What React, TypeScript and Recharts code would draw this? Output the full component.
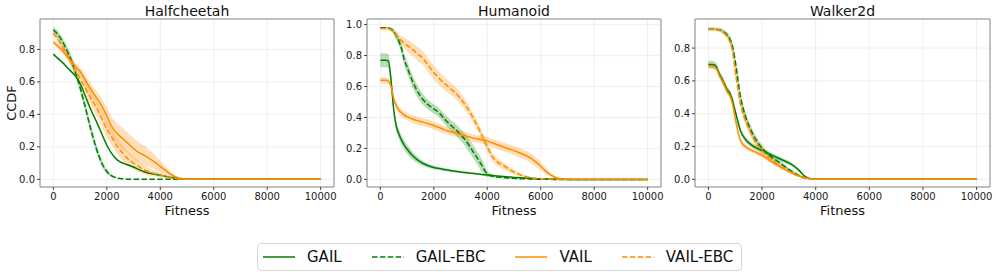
import React from 'react'
import { ComposedChart, Line, Area, XAxis, YAxis, CartesianGrid, ReferenceArea } from 'recharts'

// fitness grid shared by all panels
const FITNESS = [
  0, 100, 200, 300, 400, 500, 600, 700, 800, 900, 1000,
  1200, 1400, 1600, 1800, 2000, 2200, 2400, 2600, 2800, 3000,
  3200, 3400, 3600, 3800, 4000, 4200, 4400, 4600, 4800, 5000,
  5200, 5400, 5600, 5800, 6000, 6200, 6400, 6600, 6800, 7000,
  8000, 9000, 10000,
]
const X_TICKS = [0, 2000, 4000, 6000, 8000, 10000]

// Halfcheetah
const hcGail = [
  0.77, 0.755, 0.74, 0.725, 0.71, 0.692, 0.675, 0.658, 0.64, 0.618, 0.59,
  0.51, 0.43, 0.36, 0.285, 0.21, 0.155, 0.118, 0.1, 0.088, 0.076,
  0.06, 0.047, 0.038, 0.031, 0.026, 0.019, 0.012, 0.006, 0.003, 0.001,
  0, 0, 0, 0, 0, 0, 0, 0, 0, 0, 0, 0, 0,
]
const hcGailSd = [
  0.006, 0.006, 0.006, 0.006, 0.006, 0.006, 0.006, 0.006, 0.006, 0.006, 0.006,
  0.006, 0.006, 0.006, 0.006, 0.006, 0.006, 0.005, 0.005, 0.005, 0.005,
  0.004, 0.004, 0.003, 0.003, 0.003, 0.002, 0.002, 0.001, 0.001, 0,
  0, 0, 0, 0, 0, 0, 0, 0, 0, 0, 0, 0, 0,
]
const hcGailEbc = [
  0.92, 0.905, 0.885, 0.86, 0.83, 0.795, 0.76, 0.72, 0.67, 0.62, 0.565,
  0.44, 0.31, 0.195, 0.105, 0.048, 0.02, 0.008, 0.003, 0.001, 0,
  0, 0, 0, 0, 0, 0, 0, 0, 0, 0,
  0, 0, 0, 0, 0, 0, 0, 0, 0, 0, 0, 0, 0,
]
const hcGailEbcSd = [
  0.018, 0.02, 0.022, 0.024, 0.026, 0.028, 0.03, 0.03, 0.03, 0.03, 0.03,
  0.03, 0.03, 0.028, 0.022, 0.014, 0.008, 0.004, 0.002, 0.001, 0,
  0, 0, 0, 0, 0, 0, 0, 0, 0, 0,
  0, 0, 0, 0, 0, 0, 0, 0, 0, 0, 0, 0, 0,
]
const hcVail = [
  0.845, 0.83, 0.815, 0.8, 0.78, 0.76, 0.74, 0.72, 0.7, 0.682, 0.665,
  0.61, 0.555, 0.505, 0.455, 0.39, 0.32, 0.28, 0.25, 0.22, 0.19,
  0.165, 0.148, 0.128, 0.105, 0.08, 0.055, 0.03, 0.013, 0.005, 0.002,
  0, 0, 0, 0, 0, 0, 0, 0, 0, 0, 0, 0, 0,
]
const hcVailSd = [
  0.015, 0.015, 0.016, 0.017, 0.018, 0.019, 0.02, 0.021, 0.022, 0.023, 0.025,
  0.03, 0.035, 0.04, 0.045, 0.05, 0.058, 0.062, 0.064, 0.064, 0.064,
  0.062, 0.06, 0.054, 0.044, 0.034, 0.024, 0.015, 0.008, 0.004, 0.002,
  0, 0, 0, 0, 0, 0, 0, 0, 0, 0, 0, 0, 0,
]
const hcVailEbc = [
  0.9, 0.88, 0.855, 0.83, 0.8, 0.772, 0.745, 0.712, 0.68, 0.65, 0.62,
  0.56, 0.5, 0.445, 0.38, 0.31, 0.255, 0.2, 0.16, 0.125, 0.1,
  0.078, 0.058, 0.045, 0.035, 0.027, 0.018, 0.01, 0.006, 0.003, 0.001,
  0, 0, 0, 0, 0, 0, 0, 0, 0, 0, 0, 0, 0,
]
const hcVailEbcSd = [
  0.02, 0.02, 0.02, 0.022, 0.024, 0.026, 0.028, 0.03, 0.032, 0.034, 0.036,
  0.04, 0.045, 0.05, 0.05, 0.05, 0.05, 0.05, 0.048, 0.045, 0.04,
  0.034, 0.028, 0.022, 0.018, 0.014, 0.01, 0.006, 0.004, 0.002, 0.001,
  0, 0, 0, 0, 0, 0, 0, 0, 0, 0, 0, 0, 0,
]

// Humanoid
const huGail = [
  0.77, 0.77, 0.77, 0.765, 0.64, 0.45, 0.34, 0.29, 0.25, 0.22, 0.195,
  0.155, 0.125, 0.103, 0.088, 0.077, 0.07, 0.064, 0.058, 0.053, 0.048,
  0.044, 0.04, 0.036, 0.032, 0.029, 0.026, 0.022, 0.019, 0.016, 0.013,
  0.011, 0.009, 0.007, 0.005, 0.004, 0.003, 0.002, 0.001, 0.001, 0,
  0, 0, 0,
]
const huGailSd = [
  0.045, 0.045, 0.045, 0.045, 0.04, 0.032, 0.03, 0.03, 0.03, 0.03, 0.03,
  0.026, 0.02, 0.016, 0.013, 0.011, 0.01, 0.009, 0.008, 0.008, 0.007,
  0.007, 0.006, 0.006, 0.005, 0.005, 0.004, 0.004, 0.003, 0.003, 0.003,
  0.002, 0.002, 0.002, 0.001, 0.001, 0.001, 0.001, 0, 0, 0,
  0, 0, 0,
]
const huGailEbc = [
  0.98, 0.98, 0.98, 0.978, 0.97, 0.955, 0.925, 0.89, 0.84, 0.77, 0.725,
  0.635, 0.565, 0.515, 0.48, 0.455, 0.43, 0.39, 0.355, 0.325, 0.29,
  0.25, 0.198, 0.145, 0.09, 0.035, 0.02, 0.015, 0.012, 0.009, 0.007,
  0.005, 0.004, 0.003, 0.002, 0.001, 0.001, 0, 0, 0, 0,
  0, 0, 0,
]
const huGailEbcSd = [
  0.005, 0.005, 0.005, 0.008, 0.012, 0.018, 0.025, 0.03, 0.035, 0.038, 0.04,
  0.04, 0.038, 0.035, 0.032, 0.03, 0.03, 0.032, 0.034, 0.036, 0.038,
  0.04, 0.042, 0.042, 0.04, 0.02, 0.008, 0.005, 0.004, 0.003, 0.002,
  0.002, 0.001, 0.001, 0.001, 0, 0, 0, 0, 0, 0,
  0, 0, 0,
]
const huVail = [
  0.64, 0.64, 0.64, 0.635, 0.6, 0.52, 0.475, 0.445, 0.43, 0.415, 0.405,
  0.39, 0.378, 0.37, 0.36, 0.348, 0.335, 0.32, 0.31, 0.3, 0.29,
  0.28, 0.27, 0.262, 0.255, 0.249, 0.235, 0.222, 0.21, 0.198, 0.186,
  0.172, 0.158, 0.14, 0.115, 0.085, 0.052, 0.026, 0.01, 0.003, 0.001,
  0, 0, 0,
]
const huVailSd = [
  0.02, 0.02, 0.02, 0.02, 0.022, 0.024, 0.025, 0.025, 0.025, 0.025, 0.025,
  0.025, 0.025, 0.025, 0.025, 0.025, 0.025, 0.025, 0.025, 0.025, 0.025,
  0.025, 0.025, 0.025, 0.025, 0.025, 0.026, 0.027, 0.028, 0.029, 0.03,
  0.03, 0.03, 0.03, 0.03, 0.028, 0.02, 0.012, 0.006, 0.002, 0.001,
  0, 0, 0,
]
const huVailEbc = [
  0.975, 0.975, 0.975, 0.973, 0.966, 0.95, 0.93, 0.91, 0.895, 0.88, 0.866,
  0.84, 0.81, 0.78, 0.735, 0.69, 0.652, 0.62, 0.59, 0.56, 0.522,
  0.475, 0.42, 0.355, 0.285, 0.21, 0.145, 0.11, 0.09, 0.067, 0.048,
  0.032, 0.021, 0.013, 0.008, 0.005, 0.003, 0.001, 0, 0, 0,
  0, 0, 0,
]
const huVailEbcSd = [
  0.008, 0.008, 0.008, 0.01, 0.012, 0.015, 0.02, 0.025, 0.03, 0.035, 0.04,
  0.043, 0.045, 0.045, 0.045, 0.045, 0.045, 0.042, 0.04, 0.038, 0.036,
  0.034, 0.032, 0.03, 0.03, 0.03, 0.028, 0.025, 0.022, 0.02, 0.016,
  0.012, 0.008, 0.005, 0.003, 0.002, 0.001, 0, 0, 0, 0,
  0, 0, 0,
]

// Walker2d
const wkGail = [
  0.7, 0.7, 0.698, 0.685, 0.645, 0.615, 0.58, 0.545, 0.525, 0.48, 0.415,
  0.295, 0.24, 0.21, 0.19, 0.176, 0.16, 0.145, 0.13, 0.115, 0.1,
  0.08, 0.052, 0.018, 0.004, 0.001, 0, 0, 0, 0, 0,
  0, 0, 0, 0, 0, 0, 0, 0, 0, 0, 0, 0, 0,
]
const wkGailSd = [
  0.022, 0.022, 0.022, 0.022, 0.022, 0.022, 0.022, 0.022, 0.02, 0.02, 0.02,
  0.018, 0.016, 0.015, 0.015, 0.014, 0.014, 0.013, 0.012, 0.012, 0.012,
  0.01, 0.008, 0.006, 0.003, 0.001, 0, 0, 0, 0, 0,
  0, 0, 0, 0, 0, 0, 0, 0, 0, 0, 0, 0, 0,
]
const wkGailEbc = [
  0.915, 0.915, 0.915, 0.914, 0.912, 0.905, 0.895, 0.88, 0.855, 0.81, 0.72,
  0.5, 0.375, 0.295, 0.235, 0.19, 0.157, 0.13, 0.108, 0.084, 0.06,
  0.04, 0.022, 0.009, 0.003, 0.001, 0, 0, 0, 0, 0,
  0, 0, 0, 0, 0, 0, 0, 0, 0, 0, 0, 0, 0,
]
const wkGailEbcSd = [
  0.01, 0.01, 0.01, 0.01, 0.01, 0.012, 0.014, 0.016, 0.02, 0.025, 0.03,
  0.03, 0.028, 0.025, 0.022, 0.02, 0.018, 0.016, 0.014, 0.012, 0.01,
  0.008, 0.006, 0.004, 0.002, 0.001, 0, 0, 0, 0, 0,
  0, 0, 0, 0, 0, 0, 0, 0, 0, 0, 0, 0, 0,
]
const wkVail = [
  0.69, 0.69, 0.685, 0.675, 0.635, 0.605, 0.57, 0.535, 0.51, 0.46, 0.37,
  0.235, 0.197, 0.178, 0.162, 0.146, 0.125, 0.103, 0.085, 0.067, 0.05,
  0.033, 0.02, 0.01, 0.003, 0.001, 0, 0, 0, 0, 0,
  0, 0, 0, 0, 0, 0, 0, 0, 0, 0, 0, 0, 0,
]
const wkVailSd = [
  0.018, 0.018, 0.018, 0.018, 0.018, 0.018, 0.018, 0.018, 0.018, 0.018, 0.018,
  0.016, 0.015, 0.014, 0.014, 0.014, 0.013, 0.012, 0.011, 0.01, 0.009,
  0.008, 0.006, 0.004, 0.002, 0.001, 0, 0, 0, 0, 0,
  0, 0, 0, 0, 0, 0, 0, 0, 0, 0, 0, 0, 0,
]
const wkVailEbc = [
  0.915, 0.915, 0.915, 0.913, 0.91, 0.902, 0.89, 0.87, 0.84, 0.78, 0.66,
  0.455, 0.35, 0.275, 0.213, 0.175, 0.142, 0.115, 0.088, 0.067, 0.049,
  0.032, 0.017, 0.007, 0.002, 0.001, 0, 0, 0, 0, 0,
  0, 0, 0, 0, 0, 0, 0, 0, 0, 0, 0, 0, 0,
]
const wkVailEbcSd = [
  0.01, 0.01, 0.01, 0.01, 0.01, 0.012, 0.014, 0.016, 0.02, 0.025, 0.03,
  0.03, 0.028, 0.025, 0.022, 0.02, 0.018, 0.016, 0.014, 0.012, 0.01,
  0.008, 0.006, 0.004, 0.002, 0.001, 0, 0, 0, 0, 0,
  0, 0, 0, 0, 0, 0, 0, 0, 0, 0, 0, 0, 0,
]

const GREEN = '#008000'
const ORANGE = '#ff8c00'
const FONT = '"DejaVu Sans", Verdana, sans-serif'
const DASH = '5.5 2.4'

const SERIES = [
  { key: 'gail', name: 'GAIL', color: GREEN, dash: undefined as string | undefined },
  { key: 'gailEbc', name: 'GAIL-EBC', color: GREEN, dash: DASH },
  { key: 'vail', name: 'VAIL', color: ORANGE, dash: undefined as string | undefined },
  { key: 'vailEbc', name: 'VAIL-EBC', color: ORANGE, dash: DASH },
]

function buildRows(means: number[][], sds: number[][]) {
  return FITNESS.map((x, i) => {
    const row: any = { x }
    SERIES.forEach((s, k) => {
      const m = means[k][i]
      const d = sds[k][i]
      row[s.key] = m
      row[s.key + 'Band'] = [Math.max(0, m - d), m + d]
    })
    return row
  })
}

const hcRows = buildRows([hcGail, hcGailEbc, hcVail, hcVailEbc], [hcGailSd, hcGailEbcSd, hcVailSd, hcVailEbcSd])
const huRows = buildRows([huGail, huGailEbc, huVail, huVailEbc], [huGailSd, huGailEbcSd, huVailSd, huVailEbcSd])
const wkRows = buildRows([wkGail, wkGailEbc, wkVail, wkVailEbc], [wkGailSd, wkGailEbcSd, wkVailSd, wkVailEbcSd])

const CHART_H = 230
const TOP = 19
const PLOT_H = 168

function Panel({ title, rows, yDomain, yTicks, left, width, yAxisWidth, right }: {
  title: string
  rows: any[]
  yDomain: [number, number]
  yTicks: number[]
  left: number
  width: number
  yAxisWidth: number
  right: number
}) {
  const tickStyle = { fontSize: 10, fill: '#1a1a1a', fontFamily: FONT }
  return (
    <div style={{ position: 'absolute', left, top: 0, width, height: CHART_H }}>
      <div
        style={{
          position: 'absolute', top: 3, left: yAxisWidth, width: width - yAxisWidth - right,
          textAlign: 'center', fontSize: 14, lineHeight: '16px', fontFamily: FONT, color: '#111',
        }}
      >
        {title}
      </div>
      <ComposedChart
        width={width}
        height={CHART_H}
        data={rows}
        margin={{ top: TOP, right, bottom: CHART_H - TOP - PLOT_H - 30, left: 0 }}
      >
        <CartesianGrid stroke="#ebebeb" strokeWidth={0.8} />
        <XAxis
          dataKey="x"
          type="number"
          domain={[-500, 10500]}
          ticks={X_TICKS}
          allowDataOverflow
          axisLine={false}
          tickLine={{ stroke: '#444' }}
          tickSize={3}
          tickMargin={3}
          tick={tickStyle}
          height={30}
          label={{ value: 'Fitness', position: 'insideBottom', offset: 2, style: { fontSize: 13, fill: '#111', fontFamily: FONT } }}
        />
        <YAxis
          type="number"
          domain={yDomain}
          ticks={yTicks}
          allowDataOverflow
          width={yAxisWidth}
          axisLine={false}
          tickLine={{ stroke: '#444' }}
          tickSize={3}
          tickMargin={2}
          tick={tickStyle}
          tickFormatter={(v: number) => v.toFixed(1)}
        />
        {SERIES.map(s => (
          <Area
            key={s.key + 'Band'}
            dataKey={s.key + 'Band'}
            type="monotone"
            stroke="none"
            fill={s.color}
            fillOpacity={0.28}
            isAnimationActive={false}
            activeDot={false}
          />
        ))}
        {SERIES.map(s => (
          <Line
            key={s.key}
            dataKey={s.key}
            type="monotone"
            stroke={s.color}
            strokeWidth={1.5}
            strokeDasharray={s.dash}
            dot={false}
            activeDot={false}
            isAnimationActive={false}
          />
        ))}
        <ReferenceArea
          x1={-500}
          x2={10500}
          y1={yDomain[0]}
          y2={yDomain[1]}
          fill="none"
          stroke="#8a8a8a"
          strokeWidth={1}
          ifOverflow="visible"
        />
      </ComposedChart>
    </div>
  )
}

function LegendItem({ name, color, dash, last }: { name: string; color: string; dash?: string; last?: boolean }) {
  return (
    <div style={{ display: 'flex', alignItems: 'center', marginRight: last ? 0 : 30 }}>
      <svg width={32} height={10} style={{ display: 'block' }}>
        <line x1={0} y1={5} x2={32} y2={5} stroke={color} strokeWidth={1.5} strokeDasharray={dash} />
      </svg>
      <span style={{ marginLeft: 12, fontSize: 15, fontFamily: FONT, color: '#111', whiteSpace: 'nowrap' }}>{name}</span>
    </div>
  )
}

export default function App() {
  return (
    <div style={{ position: 'absolute', left: 0, top: 0, width: 996, height: 276, background: '#fff', overflow: 'hidden' }}>
      <div
        style={{
          position: 'absolute', left: 11, top: 103, transform: 'translate(-50%, -50%) rotate(-90deg)',
          fontSize: 13, fontFamily: FONT, color: '#111', whiteSpace: 'nowrap',
        }}
      >
        CCDF
      </div>
      <Panel title="Halfcheetah" rows={hcRows} yDomain={[-0.047, 0.987]} yTicks={[0, 0.2, 0.4, 0.6, 0.8]} left={0} width={340} yAxisWidth={40} right={6} />
      <Panel title="Humanoid" rows={huRows} yDomain={[-0.049, 1.036]} yTicks={[0, 0.2, 0.4, 0.6, 0.8, 1.0]} left={330} width={336} yAxisWidth={37} right={5} />
      <Panel title="Walker2d" rows={wkRows} yDomain={[-0.0465, 0.977]} yTicks={[0, 0.2, 0.4, 0.6, 0.8]} left={660} width={336} yAxisWidth={35} right={6} />
      <div
        style={{
          position: 'absolute', left: 257, top: 243, width: 485, height: 28, boxSizing: 'border-box',
          border: '1px solid #d6d6d6', borderRadius: 4, display: 'flex', alignItems: 'center', paddingLeft: 5,
          background: '#fff',
        }}
      >
        {SERIES.map((s, i) => (
          <LegendItem key={s.key} name={s.name} color={s.color} dash={s.dash} last={i === SERIES.length - 1} />
        ))}
      </div>
    </div>
  )
}
